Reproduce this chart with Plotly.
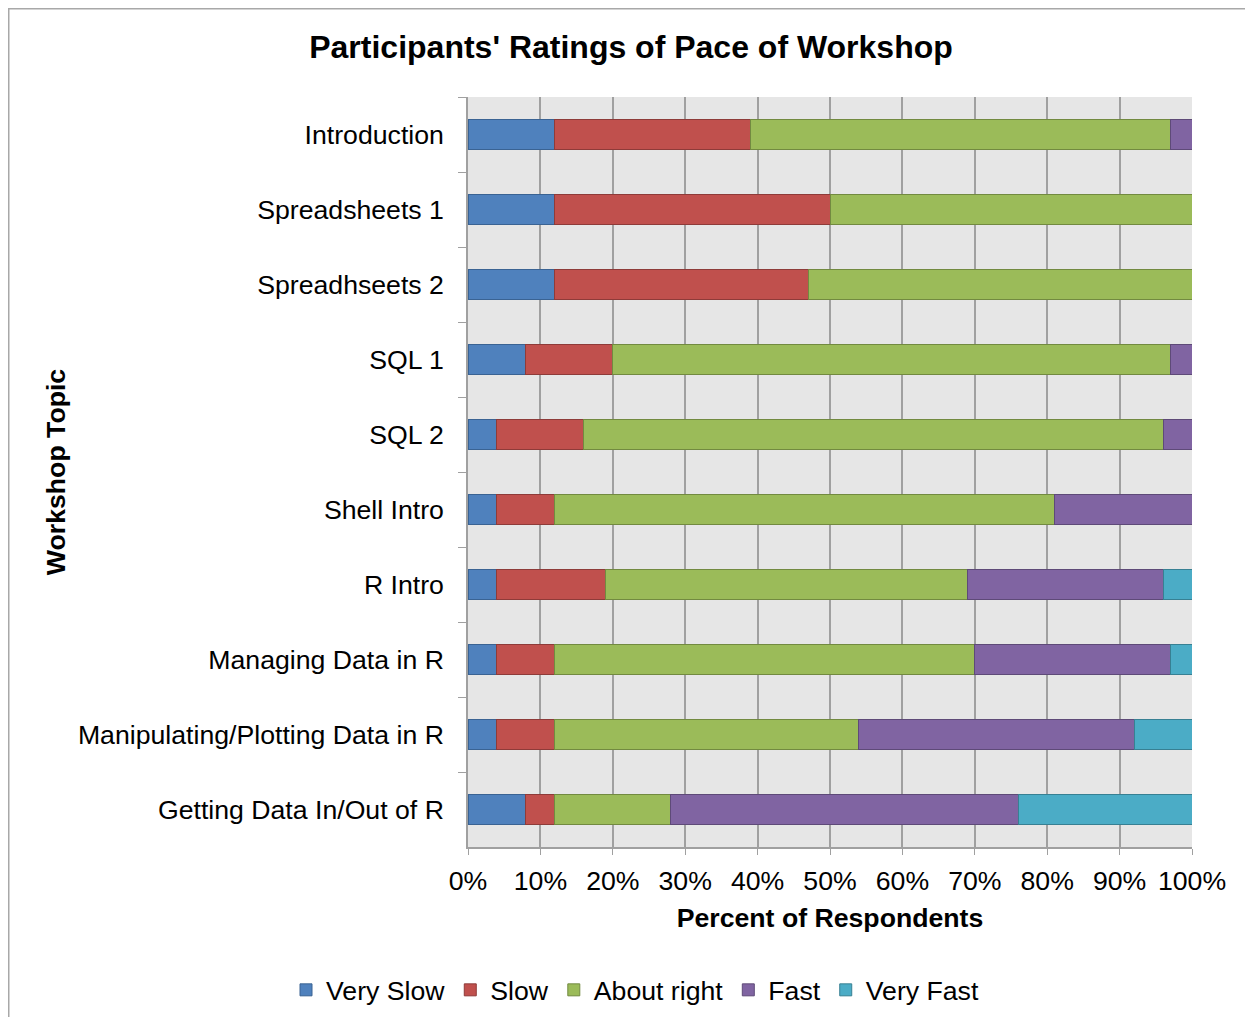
"""Participants' ratings of workshop pace - stacked horizontal bars"""

import plotly.graph_objects as go

topics = [
    "Introduction",
    "Spreadsheets 1",
    "Spreadhseets 2",
    "SQL 1",
    "SQL 2",
    "Shell Intro",
    "R Intro",
    "Managing Data in R",
    "Manipulating/Plotting Data in R",
    "Getting Data In/Out of R",
]

very_slow = [12, 12, 12, 8, 4, 4, 4, 4, 4, 8]
slow = [27, 38, 35, 12, 12, 8, 15, 8, 8, 4]
about_right = [58, 50, 53.3, 77, 80, 69, 50, 58, 42, 16]
fast = [3.3, 0, 0, 3.3, 4, 19, 27, 27, 38, 48]
very_fast = [0, 0, 0, 0, 0, 0, 4, 3.3, 8, 24]

tick_values = [0, 10, 20, 30, 40, 50, 60, 70, 80, 90, 100]
tick_labels = ["0%", "10%", "20%", "30%", "40%", "50%", "60%", "70%", "80%", "90%", "100%"]

series = [
    ("Very Slow", very_slow, "#4F81BD", "#3A6393"),
    ("Slow", slow, "#C0504D", "#8E3B39"),
    ("About right", about_right, "#9BBB59", "#728A40"),
    ("Fast", fast, "#8064A2", "#5E4A78"),
    ("Very Fast", very_fast, "#4BACC6", "#378093"),
]

FONT = "Liberation Sans, Arial, sans-serif"
PT20 = 26.67

# page has an 8px body margin, so the figure is 16px smaller than the window
W, H = 1237, 1009
L, T = 460, 89
PLOT_W, PLOT_H = 724, 750

fig = go.Figure()

for name, values, color, edge in series:
    fig.add_trace(
        go.Bar(
            y=topics,
            x=values,
            name=name,
            orientation="h",
            marker_color=color,
            marker_line_color=edge,
            marker_line_width=1,
        )
    )

fig.update_layout(
    barmode="stack",
    bargap=0.6,
    width=W,
    height=H,
    paper_bgcolor="white",
    plot_bgcolor="#E6E6E6",
    font=dict(family=FONT, size=PT20, color="black"),
    margin={"t": T, "l": L, "r": W - L - PLOT_W, "b": H - T - PLOT_H, "pad": 0},
    title=dict(
        text="<b>Participants' Ratings of Pace of Workshop</b>",
        font=dict(size=32),
        x=623 / W,
        xanchor="center",
        xref="container",
        y=1 - 39 / H,
        yanchor="middle",
        yref="container",
    ),
    xaxis=dict(
        range=[0, 100],
        tickvals=tick_values,
        ticktext=tick_labels,
        showgrid=True,
        gridcolor="#A0A0A0",
        gridwidth=1.5,
        zeroline=False,
        showline=True,
        linecolor="#A0A0A0",
        linewidth=1.5,
        ticks="outside",
        ticklen=6,
        tickcolor="#A0A0A0",
        ticklabelstandoff=3,
        title=dict(
            text="<b>Percent of Respondents</b>",
            font=dict(size=PT20),
            standoff=14,
        ),
    ),
    yaxis=dict(
        autorange="reversed",
        showgrid=False,
        zeroline=False,
        showline=True,
        linecolor="#A0A0A0",
        linewidth=1.5,
        ticks="outside",
        tickson="boundaries",
        ticklen=8,
        tickcolor="#A0A0A0",
        ticklabelstandoff=17,
        title=dict(
            text="<b>Workshop Topic</b>",
            font=dict(size=PT20),
            standoff=5,
        ),
    ),
    legend=dict(
        orientation="h",
        x=627 / W,
        xref="container",
        xanchor="center",
        y=1 - 982 / H,
        yref="container",
        yanchor="middle",
        font=dict(size=PT20),
        itemwidth=30,
        traceorder="normal",
    ),
    showlegend=True,
)

# thin chart-area border like the spreadsheet export
fig.add_shape(
    type="rect",
    xref="paper",
    yref="paper",
    x0=(0.5 - L) / PLOT_W,
    x1=(W + 20 - L) / PLOT_W,
    y0=-(H + 20 - T - PLOT_H) / PLOT_H,
    y1=(T + PLOT_H - 0.5) / PLOT_H,
    line=dict(color="#A8A8A8", width=2),
    fillcolor="rgba(0,0,0,0)",
    layer="below",
)

fig.write_html("out.html")
